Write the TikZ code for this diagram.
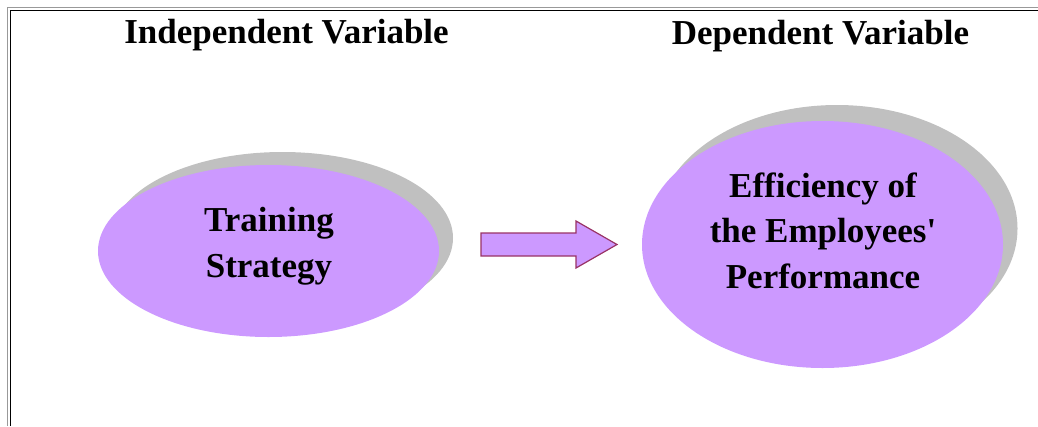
\documentclass[tikz,border=0pt]{standalone}
\usepackage{fontspec}
\setmainfont{Liberation Serif}
\usetikzlibrary{shapes.geometric}
\definecolor{lilac}{HTML}{CC99FF}
\definecolor{shade}{HTML}{C0C0C0}
\definecolor{plum}{HTML}{993366}
\tikzset{
  bigtxt/.style={font=\fontsize{35}{45.5}\selectfont\bfseries, text=black, align=center, inner sep=0pt},
  blob/.style={ellipse, fill=lilac, draw=none, inner sep=0pt},
  blobshadow/.style={ellipse, fill=shade, draw=none, inner sep=0pt},
  blockarrow/.style={fill=lilac, draw=plum, line width=1.2pt, line join=miter},
  frameouter/.style={draw=gray!80, line width=1.5pt},
  frameinner/.style={draw=black, line width=1.2pt}
}
\begin{document}
\begin{tikzpicture}[x=1pt,y=-1pt]
\useasboundingbox (0,0) rectangle (1038,426);
% frame (left and top only)
\coordinate (fo1) at (7.5,426); \coordinate (fo2) at (7.5,7.5); \coordinate (fo3) at (1038,7.5);
\coordinate (fi1) at (10.8,426); \coordinate (fi2) at (10.8,10.8); \coordinate (fi3) at (1038,10.8);
\draw[frameouter] (fo1) -- (fo2) -- (fo3);
\draw[frameinner] (fi1) -- (fi2) -- (fi3);
% titles
\node[bigtxt, anchor=base] (indep) at (286.5,43) {Independent Variable};
\node[bigtxt, anchor=base] (dep) at (820.5,44) {Dependent Variable};
% left ellipse
\node[blobshadow, minimum width=341pt, minimum height=172pt] (ts-sh) at (282.5,238) {};
\node[blob, minimum width=341pt, minimum height=172pt] (ts) at (268.5,251) {};
\node[bigtxt] (ts-txt) at (269,246) {Training\\Strategy};
% right ellipse
\node[blobshadow, minimum width=361pt, minimum height=247pt] (ef-sh) at (837,228.5) {};
\node[blob, minimum width=361pt, minimum height=247pt] (ef) at (822.5,244.5) {};
\node[bigtxt] (ef-txt) at (823,230.5) {Efficiency of\\the Employees\textquotesingle\\Performance};
% block arrow
\coordinate (a1) at (481,233); \coordinate (a2) at (576,233); \coordinate (a3) at (576,221);
\coordinate (a4) at (617,244.5); \coordinate (a5) at (576,268); \coordinate (a6) at (576,256);
\coordinate (a7) at (481,256);
\draw[blockarrow] (a1) -- (a2) -- (a3) -- (a4) -- (a5) -- (a6) -- (a7) -- cycle;
\end{tikzpicture}
\end{document}
